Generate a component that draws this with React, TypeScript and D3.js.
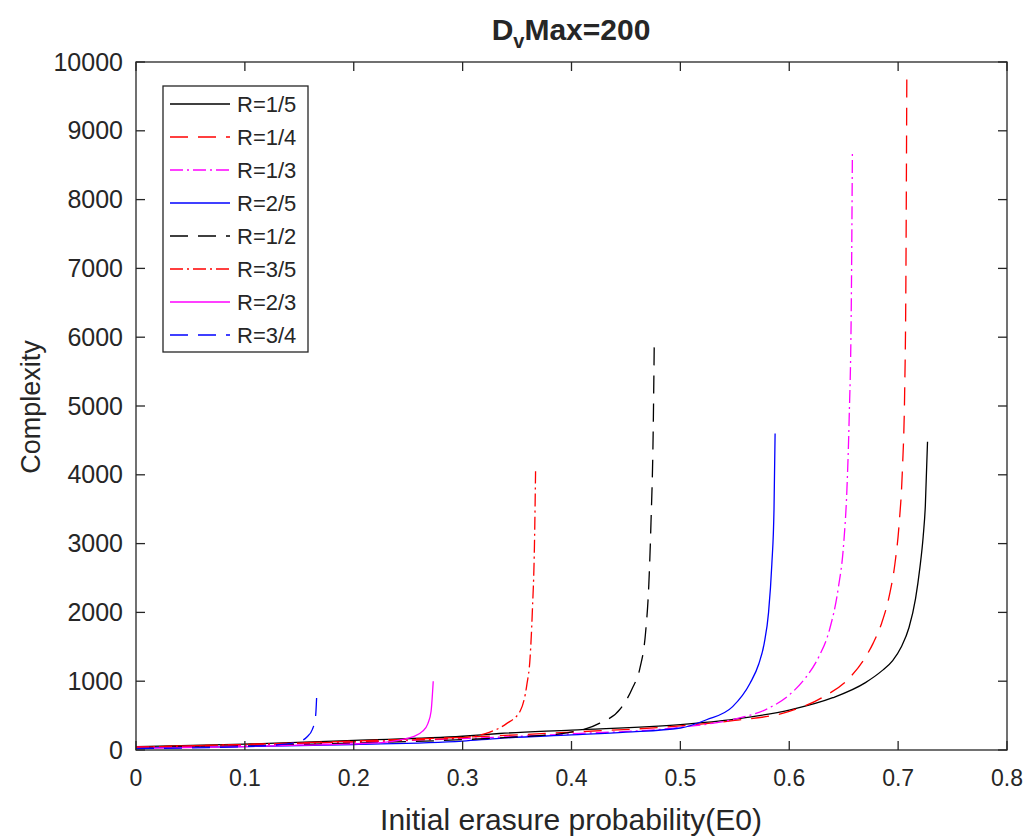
import React from "react";
import * as d3 from "d3";

// ---- data (E0, Complexity) ----
const seriesNames = ["R=1/5", "R=1/4", "R=1/3", "R=2/5", "R=1/2", "R=3/5", "R=2/3", "R=3/4"];

const r1_5: [number, number][] = [
  [0, 50], [0.1, 85], [0.2, 140], [0.3, 200], [0.334, 240], [0.4, 290], [0.5, 370], [0.55, 450],
  [0.6, 580], [0.64, 760], [0.67, 980], [0.685, 1150], [0.695, 1300], [0.703, 1500], [0.71, 1780],
  [0.716, 2200], [0.72, 2650], [0.723, 3100], [0.725, 3550], [0.727, 4480],
];
const r1_4: [number, number][] = [
  [0, 45], [0.1, 80], [0.2, 130], [0.3, 185], [0.4, 260], [0.5, 350], [0.55, 430], [0.6, 560],
  [0.63, 760], [0.656, 1060], [0.668, 1300], [0.677, 1550], [0.685, 1850], [0.692, 2250], [0.697, 2700],
  [0.701, 3300], [0.704, 4100], [0.706, 5200], [0.707, 6500], [0.708, 9850],
];
const r1_3: [number, number][] = [
  [0, 40], [0.1, 70], [0.2, 115], [0.3, 165], [0.4, 235], [0.5, 330], [0.55, 450], [0.58, 600],
  [0.6, 800], [0.615, 1050], [0.627, 1350], [0.637, 1750], [0.645, 2350], [0.65, 3000], [0.653, 3800],
  [0.655, 4800], [0.657, 6500], [0.658, 8700],
];
const r2_5: [number, number][] = [
  [0, 30], [0.1, 50], [0.2, 80], [0.3, 130], [0.334, 170], [0.4, 220], [0.45, 260], [0.5, 320],
  [0.524, 440], [0.548, 630], [0.564, 970], [0.572, 1250], [0.577, 1550], [0.581, 2000], [0.584, 2700],
  [0.586, 3500], [0.587, 4600],
];
const r1_2: [number, number][] = [
  [0, 35], [0.1, 60], [0.2, 100], [0.3, 150], [0.35, 190], [0.396, 250], [0.426, 390], [0.445, 600],
  [0.456, 900], [0.463, 1200], [0.468, 1700], [0.471, 2400], [0.473, 3300], [0.475, 4600], [0.476, 5900],
];
const r3_5: [number, number][] = [
  [0, 40], [0.1, 80], [0.2, 120], [0.25, 145], [0.3, 180], [0.325, 260], [0.34, 380], [0.353, 570],
  [0.359, 950], [0.362, 1350], [0.364, 2000], [0.366, 3000], [0.367, 4050],
];
const r2_3: [number, number][] = [
  [0, 25], [0.1, 50], [0.15, 70], [0.2, 90], [0.23, 115], [0.242, 145], [0.254, 190], [0.263, 270],
  [0.268, 380], [0.271, 560], [0.273, 1000],
];
const r3_4: [number, number][] = [
  [0, 20], [0.05, 30], [0.1, 50], [0.13, 75], [0.148, 115], [0.157, 190], [0.162, 300], [0.165, 500],
  [0.166, 800],
];

const seriesData = [r1_5, r1_4, r1_3, r2_5, r1_2, r3_5, r2_3, r3_4];
const seriesColors = ["#000000", "#ff0000", "#ff00ff", "#0000ff", "#000000", "#ff0000", "#ff00ff", "#0000ff"];
const seriesDash = ["", "18,10", "13,4,2,4", "", "18,10", "13,4,2,4", "", "18,10"];

const xTicks = [0, 0.1, 0.2, 0.3, 0.4, 0.5, 0.6, 0.7, 0.8];
const yTicks = [0, 1000, 2000, 3000, 4000, 5000, 6000, 7000, 8000, 9000, 10000];

const W = 1028;
const H = 839;
const left = 136, right = 1007, top = 62, bottom = 750;
const FONT = "'Liberation Sans', Arial, sans-serif";
const TXT = "#262626";

export default function App() {
  const x = d3.scaleLinear().domain([0, 0.8]).range([left, right]);
  const y = d3.scaleLinear().domain([0, 10000]).range([bottom, top]);
  const line = d3
    .line<[number, number]>()
    .x((d) => x(d[0]))
    .y((d) => y(d[1]))
    .curve(d3.curveMonotoneX);
  const tick = 9;

  const legX = 163, legY = 86, legW = 145, legRow = 33;
  const legH = legRow * seriesNames.length + 2;

  return (
    <svg
      width={W}
      height={H}
      style={{ position: "absolute", left: 0, top: 0, background: "#fff" }}
      fontFamily={FONT}
    >
      <rect x={0} y={0} width={W} height={H} fill="#fff" />
      <defs>
        <clipPath id="plotclip">
          <rect x={left} y={top} width={right - left} height={bottom - top} />
        </clipPath>
      </defs>
      <rect x={left} y={top} width={right - left} height={bottom - top} fill="#fff" />

      {/* series */}
      <g clipPath="url(#plotclip)">
        {seriesData.map((s, i) => (
          <path
            key={i}
            d={line(s) || ""}
            fill="none"
            stroke={seriesColors[i]}
            strokeWidth={1.3}
            strokeDasharray={seriesDash[i] || undefined}
          />
        ))}
      </g>

      {/* frame */}
      <rect x={left} y={top} width={right - left} height={bottom - top} fill="none" stroke={TXT} strokeWidth={1.3} />

      {/* x ticks */}
      {xTicks.map((t) => (
        <g key={"x" + t}>
          <line x1={x(t)} x2={x(t)} y1={bottom} y2={bottom - tick} stroke={TXT} strokeWidth={1.3} />
          <line x1={x(t)} x2={x(t)} y1={top} y2={top + tick} stroke={TXT} strokeWidth={1.3} />
          <text x={x(t)} y={786} textAnchor="middle" fontSize={23} fill={TXT}>
            {String(t)}
          </text>
        </g>
      ))}

      {/* y ticks */}
      {yTicks.map((t) => (
        <g key={"y" + t}>
          <line x1={left} x2={left + tick} y1={y(t)} y2={y(t)} stroke={TXT} strokeWidth={1.3} />
          <line x1={right} x2={right - tick} y1={y(t)} y2={y(t)} stroke={TXT} strokeWidth={1.3} />
          <text x={123} y={y(t) + 8.5} textAnchor="end" fontSize={25} fill={TXT}>
            {String(t)}
          </text>
        </g>
      ))}

      {/* title */}
      <text x={571} y={40} textAnchor="middle" fontSize={30} fontWeight="bold" fill={TXT}>
        D<tspan fontSize={20} dy={8}>v</tspan>
        <tspan dy={-8}>Max=200</tspan>
      </text>

      {/* axis labels */}
      <text x={571} y={830} textAnchor="middle" fontSize={30} fill={TXT}>
        Initial erasure probability(E0)
      </text>
      <text transform={`translate(40,407) rotate(-90)`} textAnchor="middle" fontSize={27} fill={TXT}>
        Complexity
      </text>

      {/* legend */}
      <rect x={legX} y={legY} width={legW} height={legH} fill="#fff" stroke={TXT} strokeWidth={1.3} />
      {seriesNames.map((n, i) => {
        const cy = legY + 18 + i * legRow;
        return (
          <g key={n}>
            <line
              x1={170}
              x2={230}
              y1={cy}
              y2={cy}
              stroke={seriesColors[i]}
              strokeWidth={1.3}
              strokeDasharray={seriesDash[i] || undefined}
            />
            <text x={237} y={cy + 8} fontSize={22} fill={TXT}>
              {n}
            </text>
          </g>
        );
      })}
    </svg>
  );
}
